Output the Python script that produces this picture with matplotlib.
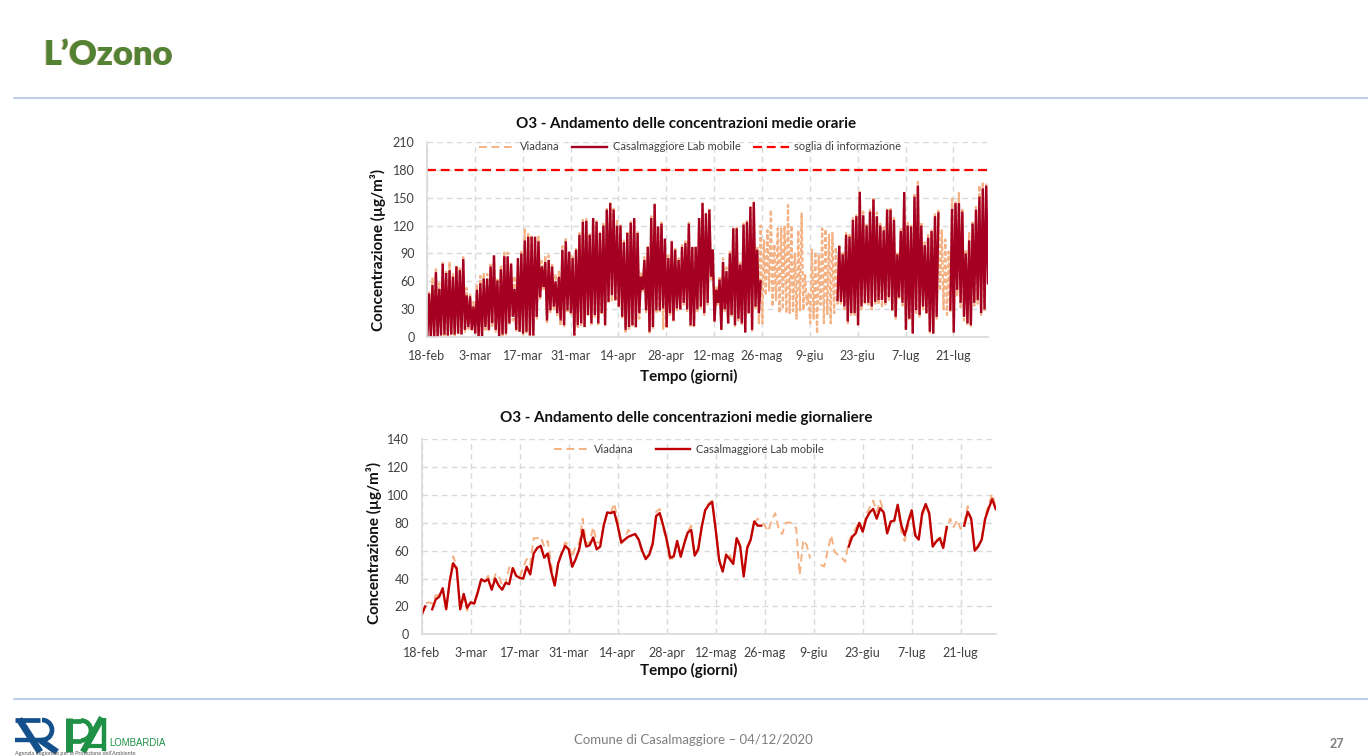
import numpy as np
import matplotlib
matplotlib.use("Agg")
import matplotlib.pyplot as plt
from matplotlib.patches import Arc

plt.rcParams['font.family'] = ['Lato', 'DejaVu Sans']

TICK_LABELS = ['18-feb', '3-mar', '17-mar', '31-mar', '14-apr', '28-apr', '12-mag',
               '26-mag', '9-giu', '23-giu', '7-lug', '21-lug']
TICK_DAYS = [0, 14, 28, 42, 56, 70, 84, 98, 112, 126, 140, 154]

# Hourly chart: daily peak and trough of each series
CAS_HI_A = [47,56,70,52,79,69,72,65,76,72, 84,45,44,33,51,58,63,63,76,88,
            61,73,87,87,79,52,85,90,104,108, 108,108,103,76,81,83,76,60,65,94,
            103,92,85,94,110,124,125,110,128,124, 112,120,137,144,137,120,120,102,112,123,
            128,112,65,83,97,128,143,119,122,106, 85,103,94,83,
            97,101,122,97,97,128,144,133,137,94,51,62,81,71,90,117,117,78,121,124,140,145,94,60]
CAS_LO_A = [0,1,0,1,2,3,2,3,3,4, 3,8,11,8,4,1,1,11,8,15,
            8,1,3,4,15,22,8,6,4,6, 2,2,22,43,54,18,29,33,26,18,
            13,29,26,2,13,15,11,24,15,24, 15,26,13,38,45,40,33,22,8,11,
            13,11,26,51,29,6,11,29,29,31, 11,26,18,31,
            30,37,30,13,12,30,33,26,37,65,17,37,8,30,15,24,13,20,15,5,26,8,33,26]
CAS_HI_B = [98,89,110,108,126,130,156,131,120,135, 148,130,120,115,137,137,126,89,114,156,
            120,119,151,163,120,99,107,114,130,133]
CAS_LO_B = [40,38,33,17,26,26,13,33,37,37, 33,38,40,40,37,43,29,22,43,37,
            8,20,4,29,24,33,26,6,4,22]
CAS_HI_C = [138,144,144,135,90,104,122,137,151,160,163]
CAS_LO_C = [30,5,51,37,22,15,13,37,40,26,30,58]
SEGMENT_START = [0, 120, 153]

VIA_HI = [50,63,73,58,81,72,81,68,78,76, 86,53,46,38,56,66,68,68,78,89,
          64,76,91,91,80,66,86,92,117,111, 110,108,108,82,88,88,80,68,72,98,
          107,92,88,96,112,126,127,112,129,125, 114,122,138,144,138,127,121,104,114,124,
          128,113,70,86,99,130,143,120,123,106, 88,104,95,85,
          99,103,123,98,98,128,144,133,137,95,55,66,85,75,92,118,118,80,122,125,140,145,98,120,
          105,115,137,100,117,117,120,142,120,90,115,133,68,47,94,92,88,117,116,110,112,97,
          100,92,112,110,128,131,156,135,121,137,150,134,122,118,139,139,128,92,116,156,
          123,122,153,167,124,102,110,116,132,136,
          115,105,92, 149,146,155,137,94,112,125,140,163,167,165]
VIA_LO = [0,0,0,0,1,2,2,2,2,3, 2,6,9,6,3,1,1,8,6,12,
          6,1,2,3,13,18,6,5,3,5, 2,2,20,40,50,16,27,30,22,12,
          12,26,24,2,11,12,10,22,14,22, 14,24,12,36,38,38,31,20,6,9,
          11,10,20,48,27,5,10,27,28,9, 9,24,16,29,
          28,35,28,12,10,28,30,24,35,62,16,35,7,28,13,22,12,18,14,5,24,7,30,15,
          15,45,50,33,40,26,30,26,26,28,20,29,29,35,15,20,4,35,15,25,15,26,
          36,36,30,15,24,24,12,30,35,35,30,36,35,32,34,40,27,20,40,34,
          7,18,3,26,22,30,24,5,3,20,
          50,30,24, 28,5,45,32,18,13,12,34,36,24,28]
THRESHOLD = 180

# Daily chart, one value per day from 18-feb
CAS_DAILY = [14,20,None,18,25,27,33,18,38,51, 47,18,29,19,23,22,30,39.5,38,39.5,
             32,40,35,32,37,36,47.5,42,40.5,40, 48.5,43,58,62,63.5,55,58,45,35,51,
             58,63.5,61,48.5,54,61,75,63,64,69.5, 61,63,78,87.5,87,88,78,66,68,70,
             71,72,68,60,54,57,65,85,87,78, 68,55,56,67,55.7,65,73,75,56.5,61,
             77,89,93,95,75,53,45,57,54,50.5, 69,63,41.5,62,68,81,78,78,
             None,None,None,None,None,None,None,None,None,None,None,None,
             None,None,None,None,None,None,None,None,None,None,None,None,
             63,70,72.5,80,73.7,83,87.5,90,83,90.5, 87.5,72.5,81,81.6,93,78.5,71,81,89,71,
             68,87,93.5,87,63,66.5,69,62,77, None,None,None,None,
             78,88,83,60,63,68,83,90.5,97,90]
VIA_DAILY = [14,22,23,22,28,28,33,18,38,56, 49,18,26,17,23,22,30,39,38,42,
             33,43,43,34,37,48,49,42,41,48, 54,50,69,69,70,63,67,50,35,52,
             59,66,64,55,64,65,83,65,66,77, 66,66,78,87,87,94,82,65,68,75,
             72,72,67,58,55,58,66,88,90,77, 66,52,56,67,56,66,74,78,57,62,
             78,90,94,96,75,54,46,59,57,52, 70,64,43,63,68,80,83,81,
             78,74,82,87,75.6,72,80,80.4,79.4,76,42.6,67.7,64,54.5,None,None,
             50,48.6,60,71,59,57,55,52,66.5,
             72,76,81,75,86,91,96,88,96,88, 72,81,81,92,74,67,78,88,73,68,
             84,92,86,64,67,71,62,75,83,77,82,75.6,80,92,82,61,64,68,85,93,101,91]

VIA_COLOR = '#F4B183'
CAS_HOURLY_COLOR = '#A50021'
CAS_DAILY_COLOR = '#C00000'
GRID = '#D9D9D9'
TXT = '#404040'
W, H = 1368, 756


def zigzag(lo, hi, start):
    days, vals = [], []
    for i, (a, b) in enumerate(zip(lo, hi)):
        days += [start + i + 0.1, start + i + 0.6]
        vals += [a, b]
    if len(lo) > len(hi):
        days.append(start + len(hi) + 0.1)
        vals.append(lo[-1])
    return days, vals


def axes_px(left, top, right, bottom):
    return fig.add_axes([left / W, 1 - bottom / H, (right - left) / W, (bottom - top) / H])


def style(ax, xmax, ymax, ystep, title, title_y, xlabel_y, ylabel_x, ylabel_y):
    ax.set_xlim(0, xmax)
    ax.set_ylim(0, ymax)
    ax.set_xticks(TICK_DAYS, TICK_LABELS)
    ax.set_yticks(np.arange(0, ymax + 1, ystep))
    ax.tick_params(length=0, labelsize=9, labelcolor=TXT)
    ax.tick_params(axis='x', pad=9)
    ax.tick_params(axis='y', pad=9)
    ax.grid(True, color=GRID, ls=(0, (4, 3)), lw=1)
    ax.set_axisbelow(True)
    for s in ('top', 'right'):
        ax.spines[s].set_visible(False)
    for s in ('left', 'bottom'):
        ax.spines[s].set_color(GRID)
        ax.spines[s].set_linewidth(1.2)
    fig.text(686 / W, 1 - title_y / H, title, ha='center', va='center', fontsize=10.9,
             fontweight='bold', color='#111111')
    fig.text(689 / W, 1 - xlabel_y / H, 'Tempo (giorni)', ha='center', va='center', fontsize=10.9,
             fontweight='bold', color='#111111')
    fig.text(ylabel_x / W, 1 - ylabel_y / H, 'Concentrazione (µg/m³)', rotation=90, ha='center',
             va='center', fontsize=11, fontweight='bold', color='#111111')


fig = plt.figure(figsize=(W / 100, H / 100), dpi=100, facecolor='white')

# Hourly chart
ax1 = axes_px(427, 141.7, 988.3, 337.3)
vx, vy = zigzag(VIA_LO, VIA_HI, 0)
ax1.plot(vx, vy, color=VIA_COLOR, lw=1.6, ls=(0, (2, 1.1)), label='Viadana')
segments = [(CAS_LO_A, CAS_HI_A), (CAS_LO_B, CAS_HI_B), (CAS_LO_C, CAS_HI_C)]
for k, ((lo, hi), st) in enumerate(zip(segments, SEGMENT_START)):
    cx, cy = zigzag(lo, hi, st)
    ax1.plot(cx, cy, color=CAS_HOURLY_COLOR, lw=1.7, solid_joinstyle='miter',
             label='Casalmaggiore Lab mobile' if k == 0 else None)
ax1.plot([0, 164.2], [THRESHOLD, THRESHOLD], color='#FF0000', lw=1.6, ls=(0, (4, 2.2)),
         label='soglia di informazione')
style(ax1, 164.2, 210, 30, 'O3 - Andamento delle concentrazioni medie orarie', 124, 376, 378, 250)
leg = ax1.legend(loc='center', bbox_to_anchor=((690 - 427) / 561.3, (337.3 - 147) / 195.6), ncols=3,
                 frameon=False, fontsize=8, labelcolor=TXT, handlelength=3.2, columnspacing=1.1,
                 handletextpad=0.5, borderpad=0, borderaxespad=0)
leg.get_lines()[0].set_linewidth(1.4)
leg.get_lines()[0].set_linestyle((0, (4, 2.4)))

# Daily chart
ax2 = axes_px(421.7, 439.3, 995.7, 634.3)
days = np.arange(len(CAS_DAILY))
ax2.plot(np.arange(len(VIA_DAILY)), np.array(VIA_DAILY, dtype=float), color=VIA_COLOR, lw=1.4,
         ls=(0, (4, 2.4)), label='Viadana')
ax2.plot(days, np.array(CAS_DAILY, dtype=float), color=CAS_DAILY_COLOR, lw=1.7,
         label='Casalmaggiore Lab mobile')
style(ax2, 164, 140, 20, 'O3 - Andamento delle concentrazioni medie giornaliere', 418, 670, 374, 543)
ax2.legend(loc='center', bbox_to_anchor=((689 - 421.7) / 574, (634.3 - 449) / 195), ncols=2,
           frameon=False, fontsize=8, labelcolor=TXT, handlelength=3.1, columnspacing=2.0,
           handletextpad=0.5, borderpad=0, borderaxespad=0)

# Slide furniture, drawn in pixel coordinates
bg = fig.add_axes([0, 0, 1, 1], zorder=-1)
bg.set_xlim(0, W)
bg.set_ylim(H, 0)
bg.axis('off')
for y in (97.5, 698.5):
    bg.plot([14, W], [y, y], color='#A9BDE3', lw=1.1)
bg.text(42.6, 55, 'L’Ozono', fontsize=24.8, fontweight='heavy', color='#C08A4A', va='center', alpha=.5)
bg.text(43.2, 55, 'L’Ozono', fontsize=24.8, fontweight='heavy', color='#548235', va='center')
bg.text(693, 740.5, 'Comune di Casalmaggiore – 04/12/2020', fontsize=9.5, color='#7F7F7F',
        ha='center', va='center')
bg.text(1337, 743.5, '27', fontsize=9, fontweight='bold', color='#7F7F7F', ha='center', va='center')

# Logo
navy, green = '#14508C', '#1E9146'
bg.plot([15, 40], [720, 720], color=navy, lw=3.4, solid_capstyle='butt')
bg.plot([19, 40], [719, 752], color=navy, lw=5, solid_capstyle='butt')
bg.plot([15, 43], [740, 740], color=navy, lw=3.2, solid_capstyle='butt')
bg.add_patch(Arc((42, 730), 20, 20, theta1=-90, theta2=90, color=navy, lw=3.4))
bg.plot([40, 57], [740, 752], color=navy, lw=4.6, solid_capstyle='butt')
bg.plot([68.5, 68.5], [717.5, 752], color=green, lw=5, solid_capstyle='butt')
bg.plot([68, 81], [720.5, 720.5], color=green, lw=3.4, solid_capstyle='butt')
bg.add_patch(Arc((81, 730.5), 20, 20, theta1=-90, theta2=90, color=green, lw=3.4))
bg.plot([68, 81], [740.5, 740.5], color=green, lw=3.4, solid_capstyle='butt')
bg.plot([102, 83], [717.5, 752], color=green, lw=4.6, solid_capstyle='butt')
bg.plot([103.5, 103.5], [717.5, 751], color=green, lw=3.2, solid_capstyle='butt')
bg.plot([88, 105], [746, 746], color=green, lw=3, solid_capstyle='butt')
bg.text(109, 742.5, 'LOMBARDIA', fontsize=6.9, color=green, va='center', family='Liberation Sans')
bg.text(15, 756.5, 'Agenzia Regionale per la Protezione dell’Ambiente', fontsize=4, color='#555555', va='bottom')

fig.savefig('out.png', dpi=100)
